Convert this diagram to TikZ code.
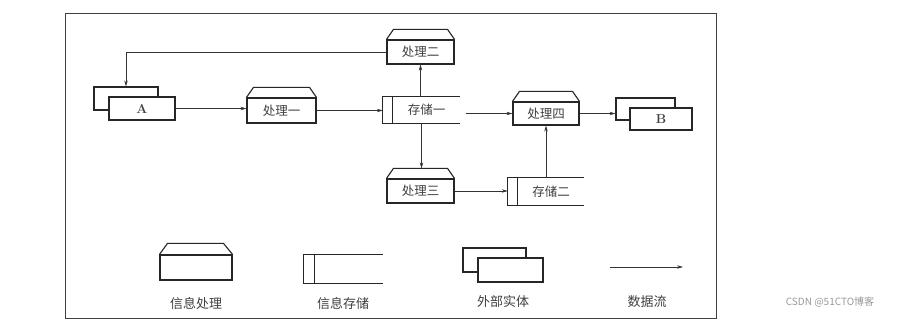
\documentclass[tikz,border=0pt]{standalone}
\usepackage{fontspec}
\newfontfamily\cjk{Noto Sans CJK SC}
\usetikzlibrary{arrows.meta}
\tikzset{
  box/.style={draw=black!85, line width=1.1pt, inner sep=0pt, font=\cjk\fontsize{12.5}{14}\selectfont, text=black!75},
  ent/.style={box, fill=white, font=\bfseries\fontsize{13}{14}\selectfont},
  stor/.style={inner sep=0pt, font=\cjk\fontsize{12.5}{14}\selectfont, text=black!75},
  shapeline/.style={draw=black!85, line width=1.1pt},
  flow/.style={draw=black!80, line width=0.6pt, -{Stealth[length=6pt,width=3.4pt]}},
  lab/.style={font=\cjk\fontsize{13}{15}\selectfont, text=black!75},
}
\newcommand\proctop[1]{\draw[shapeline] (#1.north west) -- ++(7,-10) -- ([shift={(-7,-10)}]#1.north east) -- (#1.north east);
  \coordinate (#1-top) at ([yshift=10pt]#1.north);}
\newcommand\storlines[2]{\draw[shapeline] (#1.north east) -- (#1.north west) -- (#1.south west) -- (#1.south east);
  \draw[shapeline] ([xshift=#2]#1.north west) -- ([xshift=#2]#1.south west);}
\begin{document}
\begin{tikzpicture}[x=1pt,y=-1pt]
\useasboundingbox[fill=white] (0,0) rectangle (899,328);
\node[draw=black!75, line width=1pt, minimum width=651pt, minimum height=305pt, inner sep=0pt] (frame) at (390.5,166.5) {};

% external entity A
\node[box, minimum width=64pt, minimum height=23pt] (Aback) at (126,98.5) {};
\node[ent, minimum width=66pt, minimum height=23pt] (A) at (142,108.5) {A};
% processes
\node[box, minimum width=67pt, minimum height=24pt] (p2) at (420.5,52) {处理二};
\proctop{p2}
\node[box, minimum width=69pt, minimum height=25pt] (p1) at (281.5,110.5) {处理一};
\proctop{p1}
\node[box, minimum width=67pt, minimum height=24pt] (p3) at (420.5,191) {处理三};
\proctop{p3}
\node[box, minimum width=66pt, minimum height=23pt] (p4) at (546,113.5) {处理四};
\proctop{p4}
% stores
\node[stor, minimum width=77pt, minimum height=26pt, text width=67pt, align=center] (s1) at (421.5,110) {\hspace*{10pt}存储一};
\storlines{s1}{10}
\node[stor, minimum width=76pt, minimum height=27pt, text width=66pt, align=center] (s2) at (546,191.5) {\hspace*{10pt}存储二};
\storlines{s2}{10}
% external entity B
\node[box, minimum width=59pt, minimum height=22pt] (Bback) at (645.5,109) {};
\node[ent, minimum width=62pt, minimum height=22pt] (B) at (661,119) {B};

% flows
\draw[flow] (p2.west) -| (Aback.north);
\draw[flow] (A.east) -- (A.east -| p1.west);
\draw[flow] (p1.east) -- (p1.east -| s1.west);
\draw[flow] (s1.north -| p2.south) -- (p2.south);
\draw[flow] (s1.south) -- (s1.south |- p3-top);
\draw[flow] ([xshift=6pt]s1.east |- p4.west) -- (p4.west);
\draw[flow] (p4.east) -- (p4.east -| Bback.west);
\draw[flow] (p3.east) -- (p3.east -| s2.west);
\draw[flow] (s2.north -| p4.south) -- (p4.south);

% legend
\node[box, minimum width=72pt, minimum height=25pt] (lp) at (196,267.5) {};
\draw[shapeline] (lp.north west) -- ++(8,-11) -- ([shift={(-9,-11)}]lp.north east) -- (lp.north east);
\node[stor, minimum width=79pt, minimum height=28pt] (ls) at (343.5,269) {};
\storlines{ls}{11}
\node[box, minimum width=63pt, minimum height=24pt] (leback) at (494.5,260) {};
\node[box, fill=white, minimum width=65pt, minimum height=24pt] (le) at (510.5,270) {};
\coordinate (la1) at (610,267);
\coordinate (la2) at (683,267);
\draw[flow] (la1) -- (la2);

\node[lab] (t1) at (196,304) {信息处理};
\node[lab] (t2) at (343,304) {信息存储};
\node[lab] (t3) at (503,302) {外部实体};
\node[lab] (t4) at (647,302) {数据流};

\node[font=\cjk\fontsize{10}{12}\selectfont, text=black!40] (wm) at (830,302) {CSDN @51CTO博客};
\end{tikzpicture}
\end{document}
